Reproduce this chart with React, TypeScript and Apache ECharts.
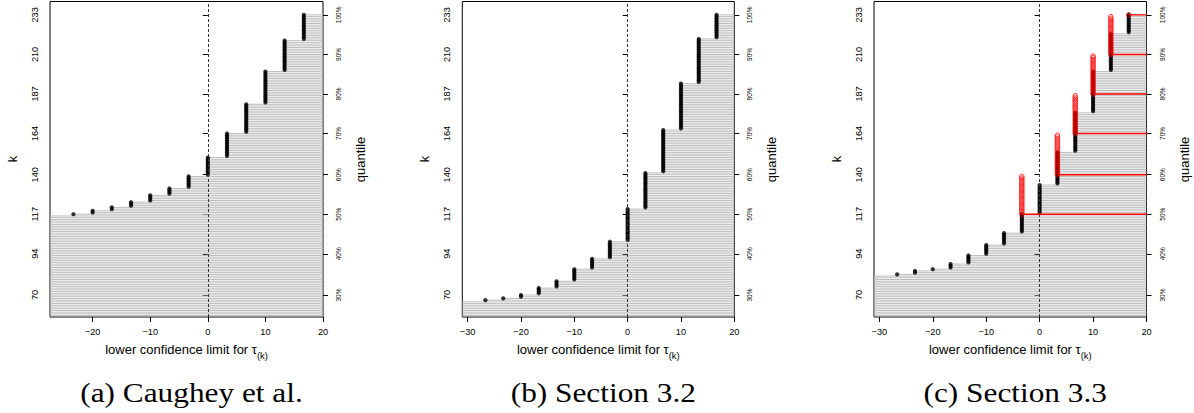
import React, { useEffect, useRef } from "react";
import * as echarts from "echarts";

// ---------- data ----------
const N_UNITS = 233;
const K_START = 1;
const kTicks = [70, 94, 117, 140, 164, 187, 210, 233];
const quantileLabels = ["30%", "40%", "50%", "60%", "70%", "80%", "90%", "100%"];
const xTicksA = [-20, -10, 0, 10, 20];
const xTicksBC = [-30, -20, -10, 0, 10, 20];

// Panel (a) Caughey et al.: lower limit and first k of each step (earlier k: -inf)
const stepLimitsA = [-23.33, -20, -16.67, -13.33, -10, -6.67, -3.33, 0, 3.33, 6.67, 10, 13.33, 16.67];
const stepFirstKA = [117, 118, 120, 122, 125, 129, 133, 140, 151, 165, 182, 201, 219];

// Panel (b) Section 3.2
const stepLimitsB = [-26.67, -23.33, -20, -16.67, -13.33, -10, -6.67, -3.33, 0, 3.33, 6.67, 10, 13.33, 16.67];
const stepFirstKB = [67, 68, 69, 71, 75, 79, 86, 92, 102, 121, 142, 167, 194, 220];

// Panel (c) Section 3.3
const stepLimitsC = [-26.67, -23.33, -20, -16.67, -13.33, -10, -6.67, -3.33, 0, 3.33, 6.67, 10, 13.33, 16.67];
const stepFirstKC = [82, 83, 85, 86, 89, 94, 100, 107, 118, 135, 154, 177, 201, 223];
const redLimitsC = [-3.33, 3.33, 6.67, 10, 13.33, 16.67];
const redFirstKC = [117, 140, 164, 187, 210, 233];
const redLastKC = [139, 163, 186, 209, 232, 233];

const captions = ["(a) Caughey et al.", "(b) Section 3.2", "(c) Section 3.3"];

// ---------- layout ----------
const X_MAX = 20;
const xMins = [-27.4, -31.0, -31.0];
const Y_MIN = 57.2;
const Y_MAX = 240.8;
const grids = [
  { left: 50, top: 1.5, width: 273, height: 315.5 },
  { left: 462.3, top: 1.5, width: 272, height: 315.5 },
  { left: 874, top: 1.5, width: 272.5, height: 315.5 },
];
const FONT = "Liberation Sans";
const SERIF = "Liberation Serif";

function expandSteps(limits: number[], firstK: number[]) {
  const rows: (number | null)[][] = [];
  for (let k = K_START; k <= N_UNITS; k++) {
    let L: number | null = null;
    for (let i = 0; i < firstK.length; i++) if (firstK[i] <= k) L = limits[i];
    rows.push([L, k]);
  }
  return rows;
}

function expandRanges(limits: number[], firstK: number[], lastK: number[]) {
  const rows: number[][] = [];
  for (let i = 0; i < limits.length; i++) {
    for (let k = firstK[i]; k <= lastK[i]; k++) rows.push([limits[i], k]);
  }
  return rows;
}

const fmtMinus = (v: number) => String(v).replace("-", "\u2212");

// horizontal segment from the lower limit (or the left edge for -inf) to the right edge
function segmentSeries(data: any[], xi: number, yi: number, color: string, width: number, z: number) {
  return {
    type: "custom",
    xAxisIndex: xi,
    yAxisIndex: yi,
    z,
    clip: true,
    silent: true,
    data,
    renderItem: (params: any, api: any) => {
      const L = api.value(0);
      const k = api.value(1);
      const cs = params.coordSys;
      const right = api.coord([X_MAX, k]);
      const x1 = Number.isFinite(L) ? api.coord([L, k])[0] : cs.x;
      return {
        type: "line",
        shape: { x1: Math.max(x1, cs.x), y1: right[1], x2: right[0], y2: right[1] },
        style: { stroke: color, lineWidth: width },
        silent: true,
      };
    },
  };
}

function buildOption() {
  const panels = [
    { limits: stepLimitsA, firstK: stepFirstKA, xTicks: xTicksA },
    { limits: stepLimitsB, firstK: stepFirstKB, xTicks: xTicksBC },
    { limits: stepLimitsC, firstK: stepFirstKC, xTicks: xTicksBC },
  ];
  const xAxis: any[] = [];
  const yAxis: any[] = [];
  const series: any[] = [];
  const graphic: any[] = [];

  panels.forEach((p, i) => {
    xAxis.push({
      type: "value",
      gridIndex: i,
      min: xMins[i],
      max: X_MAX,
      axisLine: { show: false, onZero: false },
      splitLine: { show: false },
      axisTick: { show: true, length: 5, customValues: p.xTicks, lineStyle: { color: "#000", width: 1 } },
      axisLabel: {
        customValues: p.xTicks,
        fontSize: 9.2,
        fontFamily: FONT,
        color: "#000",
        margin: 10,
        formatter: (v: number) => fmtMinus(v),
      },
    });
    yAxis.push({
      type: "value",
      gridIndex: i,
      position: "left",
      min: Y_MIN,
      max: Y_MAX,
      axisLine: { show: false },
      splitLine: { show: false },
      axisTick: { show: true, length: 5, customValues: kTicks, lineStyle: { color: "#000", width: 1 } },
      axisLabel: {
        customValues: kTicks,
        rotate: 90,
        fontSize: 9.2,
        fontFamily: FONT,
        color: "#000",
        margin: 11,
        formatter: (v: number) => String(Math.round(v)),
      },
    });
    yAxis.push({
      type: "value",
      gridIndex: i,
      position: "right",
      min: Y_MIN,
      max: Y_MAX,
      axisLine: { show: false },
      splitLine: { show: false },
      axisTick: { show: true, length: 5, customValues: kTicks, lineStyle: { color: "#000", width: 1 } },
      axisLabel: {
        customValues: kTicks,
        rotate: 90,
        fontSize: 6.5,
        fontFamily: FONT,
        color: "#000",
        margin: 12,
        formatter: (v: number) => quantileLabels[kTicks.indexOf(Math.round(v))] ?? "",
      },
    });

    const rows = expandSteps(p.limits, p.firstK);
    const yi = 2 * i;
    series.push(segmentSeries(rows, i, yi, "#bcbcbc", 1, 2));
    series.push({
      type: "scatter",
      xAxisIndex: i,
      yAxisIndex: yi,
      z: 3,
      silent: true,
      symbol: "circle",
      symbolSize: 4.2,
      itemStyle: { color: "#000" },
      data: rows.filter((r) => r[0] !== null),
      markLine: {
        silent: true,
        symbol: ["none", "none"],
        label: { show: false },
        lineStyle: { color: "#333", width: 1, type: [3, 2] },
        data: [{ xAxis: 0 }],
      },
    });

    const g = grids[i];
    const cx = g.left + g.width / 2;
    graphic.push({
      type: "text",
      x: g.left - 38,
      y: 159,
      rotation: Math.PI / 2,
      style: { text: "k", fontSize: 13, fontFamily: FONT, fill: "#000", align: "center", verticalAlign: "middle" },
    });
    graphic.push({
      type: "text",
      x: g.left + g.width + 37.5,
      y: 159.5,
      rotation: Math.PI / 2,
      style: { text: "quantile", fontSize: 13, fontFamily: FONT, fill: "#000", align: "center", verticalAlign: "middle" },
    });
    graphic.push({
      type: "text",
      x: cx,
      y: 349.5,
      style: {
        text: "{a|lower confidence limit for }{a|\u03c4}{s|(k)}",
        align: "center",
        verticalAlign: "middle",
        rich: {
          a: { fontSize: 13, fontFamily: FONT, fill: "#000", lineHeight: 20 },
          s: { fontSize: 9.4, fontFamily: FONT, fill: "#000", lineHeight: 10, verticalAlign: "bottom" },
        },
      },
    });
    graphic.push({
      type: "text",
      x: cx + 5,
      y: 393,
      scaleX: 1.16,
      style: { text: captions[i], fontSize: 27, fontFamily: SERIF, fill: "#000", align: "center", verticalAlign: "middle" },
    });
  });

  // Panel (c) red bounds: horizontal segments to the right edge + hollow circles
  const redLineRows = redLimitsC.map((L, i) => [L, redFirstKC[i]]);
  series.push(segmentSeries(redLineRows, 2, 4, "#ff0000", 1.4, 6));
  series.push({
    type: "scatter",
    xAxisIndex: 2,
    yAxisIndex: 4,
    z: 5,
    silent: true,
    symbol: "circle",
    symbolSize: 4.6,
    itemStyle: { color: "rgba(0,0,0,0)", borderColor: "#ff0000", borderWidth: 1 },
    data: expandRanges(redLimitsC, redFirstKC, redLastKC),
  });

  return {
    animation: false,
    backgroundColor: "#fff",
    grid: grids.map((g) => ({
      ...g,
      show: true,
      borderColor: "#000",
      borderWidth: 1,
      backgroundColor: "transparent",
      containLabel: false,
      outerBoundsMode: "none",
    })),
    xAxis,
    yAxis,
    series,
    graphic,
  };
}

export default function App() {
  const ref = useRef<HTMLDivElement>(null);
  useEffect(() => {
    if (!ref.current) return;
    const chart = echarts.init(ref.current, null, { renderer: "svg" });
    chart.setOption(buildOption() as any);
    return () => chart.dispose();
  }, []);
  return (
    <div
      ref={ref}
      style={{ position: "fixed", left: 0, top: 0, width: 1194, height: 413, background: "#fff" }}
    />
  );
}
